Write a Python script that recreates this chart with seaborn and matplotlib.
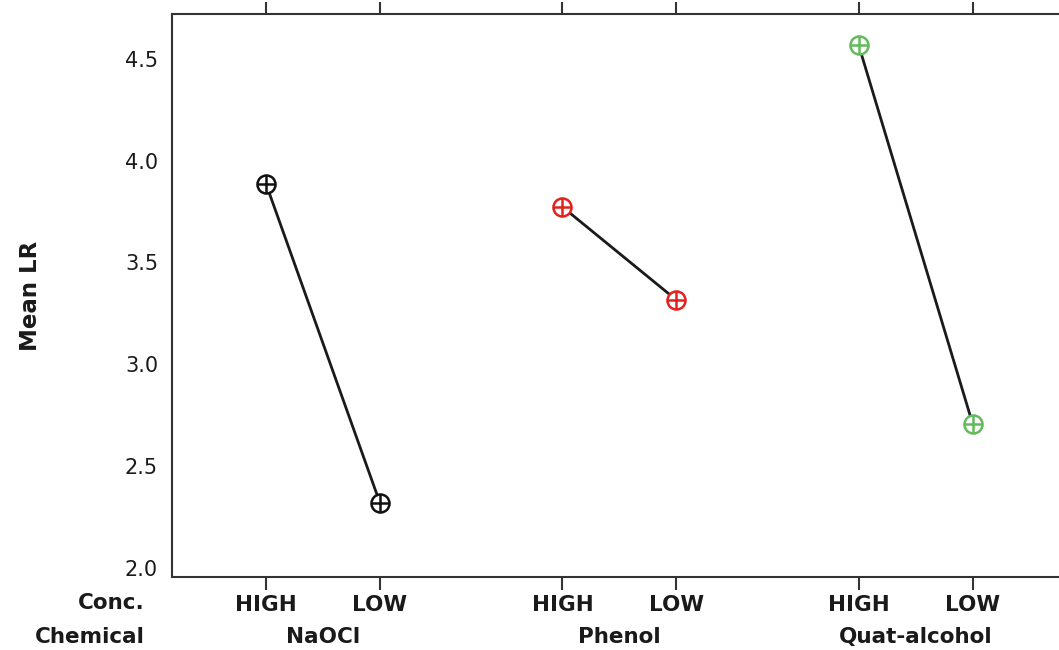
import matplotlib
matplotlib.use("Agg")
import matplotlib.pyplot as plt
import seaborn as sns
import pandas as pd

# data
chemicals = ["NaOCl", "NaOCl", "Phenol", "Phenol", "Quat-alcohol", "Quat-alcohol"]
conc = ["HIGH", "LOW", "HIGH", "LOW", "HIGH", "LOW"]
mean_lr = [3.886, 2.319, 3.773, 3.316, 4.566, 2.707]
xpos = [0, 1, 2.6, 3.6, 5.2, 6.2]
chem_colors = {"NaOCl": "#111111", "Phenol": "#e3221e", "Quat-alcohol": "#62bb5c"}

df = pd.DataFrame({"chemical": chemicals, "conc": conc, "mean_lr": mean_lr, "x": xpos})

sns.set_style("white")
plt.rcParams["font.family"] = ["DejaVu Sans"]
plt.rcParams["text.color"] = "#1a1a1a"
plt.rcParams["xtick.color"] = "#1a1a1a"
plt.rcParams["ytick.color"] = "#1a1a1a"
plt.rcParams["axes.labelcolor"] = "#1a1a1a"

fig = plt.figure(figsize=(10.59, 6.5), dpi=100)
ax = fig.add_axes([0.1624, 0.1123, 0.846, 0.8662])

for chem, sub in df.groupby("chemical", sort=False):
    col = chem_colors[chem]
    sns.lineplot(data=sub, x="x", y="mean_lr", color="#1a1a1a", lw=2,
                 marker="o", ms=13, mfc="white", mec=col, mew=1.8, ax=ax)
    sns.lineplot(data=sub, x="x", y="mean_lr", color=col, lw=0,
                 marker="+", ms=13, mec=col, mew=1.8, ax=ax)

ax.set_xlim(-0.825, 7.035)
ax.set_ylim(1.956, 4.72)
ax.set_yticks([2.0, 2.5, 3.0, 3.5, 4.0, 4.5])
ax.set_yticklabels(["2.0", "2.5", "3.0", "3.5", "4.0", "4.5"], fontsize=15)
ax.set_xticks(xpos)
ax.set_xticklabels(conc, fontsize=15.5, fontweight="bold")
ax.tick_params(axis="x", which="both", top=True, bottom=True, direction="out",
               length=9, width=1.5, pad=4, color="#333333")
ax.tick_params(axis="y", direction="out", length=6, width=1.5, pad=4, color="#333333")
ax.set_xlabel("")
ax.set_ylabel("Mean LR", fontsize=16.5, fontweight="bold", labelpad=60)
for sp in ax.spines.values():
    sp.set_linewidth(1.5)
    sp.set_color("#333333")

# second row of labels: chemical names under each pair
fig.text(145 / 1059, 1 - 603 / 650, "Conc.", ha="right", va="center",
         fontsize=15.5, fontweight="bold")
fig.text(145 / 1059, 1 - 637 / 650, "Chemical", ha="right", va="center",
         fontsize=15.5, fontweight="bold")
for chem, sub in df.groupby("chemical", sort=False):
    ax.annotate(chem, xy=(sub["x"].mean(), 0), xycoords=("data", "axes fraction"),
                xytext=(0, -43), textcoords="offset points", ha="center", va="center",
                fontsize=15.5, fontweight="bold")

fig.savefig("out.png", dpi=100)
